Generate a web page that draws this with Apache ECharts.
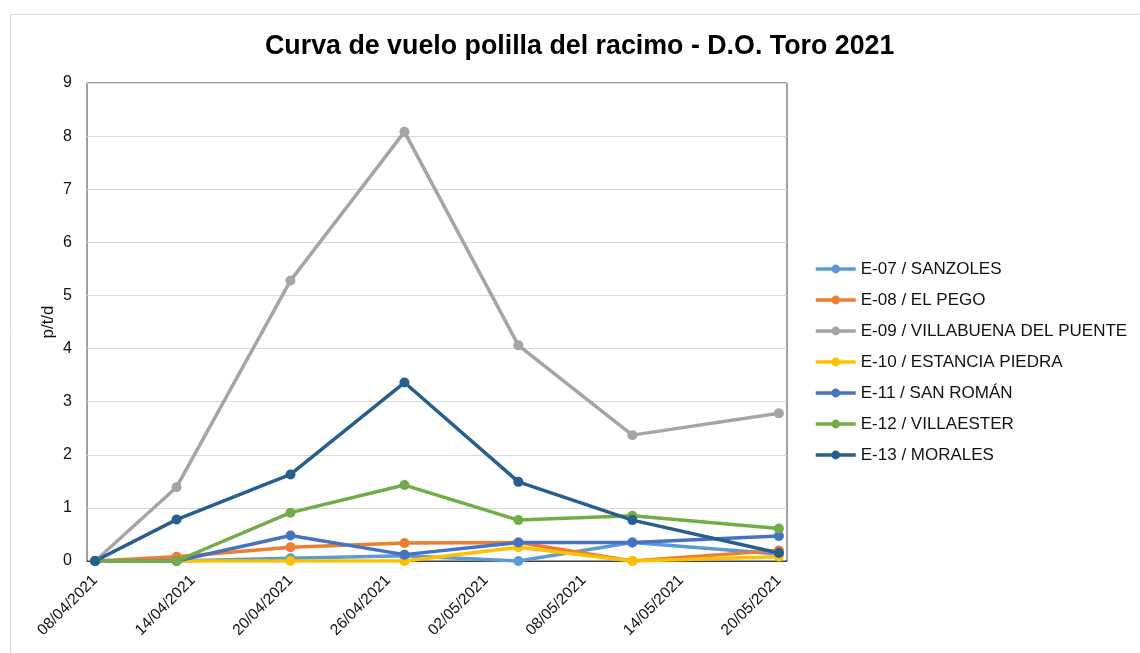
<!DOCTYPE html>
<html>
<head>
<meta charset="utf-8">
<script src="https://cdn.jsdelivr.net/npm/echarts@6/dist/echarts.min.js"></script>
<style>
  html, body { margin: 0; padding: 0; background: #fff; }
  #chart { width: 1140px; height: 653px; }
</style>
</head>
<body>
<div id="chart"></div>
<script>
// fechas de muestreo
const dates = ['2021-04-08', '2021-04-13', '2021-04-20', '2021-04-27', '2021-05-04', '2021-05-11', '2021-05-20'];
// etiquetas del eje x
const tickDates = ['2021-04-08', '2021-04-14', '2021-04-20', '2021-04-26', '2021-05-02', '2021-05-08', '2021-05-14', '2021-05-20'];
const yTicks = [0, 1, 2, 3, 4, 5, 6, 7, 8, 9];

const seriesNames = [
    'E-07 / SANZOLES',
    'E-08 / EL PEGO',
    'E-09 / VILLABUENA DEL PUENTE',
    'E-10 / ESTANCIA PIEDRA',
    'E-11 / SAN ROMÁN',
    'E-12 / VILLAESTER',
    'E-13 / MORALES'
];
const e07 = [0, 0, 0.05, 0.1, 0, 0.35, 0.13];
const e08 = [0, 0.08, 0.26, 0.34, 0.35, 0, 0.2];
const e09 = [0, 1.39, 5.28, 8.08, 4.06, 2.37, 2.78];
const e10 = [0, 0, 0, 0, 0.26, 0, 0.08];
const e11 = [0, 0, 0.48, 0.12, 0.35, 0.35, 0.47];
const e12 = [0, 0, 0.91, 1.43, 0.77, 0.85, 0.61];
const e13 = [0, 0.78, 1.63, 3.36, 1.49, 0.77, 0.15];
const colors = ['#5B9BD5', '#ED7D31', '#A5A5A5', '#FFC000', '#4472C4', '#70AD47', '#255E91'];

const DAY = 86400000;
const t0 = Date.parse(dates[0]);
const toDay = d => Math.round((Date.parse(d) - t0) / DAY);
const fmt = d => d.slice(8, 10) + '/' + d.slice(5, 7) + '/' + d.slice(0, 4);

const font = '"Liberation Sans", Arial, sans-serif';
const allValues = [e07, e08, e09, e10, e11, e12, e13];

const series = allValues.map((vals, i) => ({
    name: seriesNames[i],
    type: 'line',
    data: vals.map((v, k) => [toDay(dates[k]), v]),
    symbol: 'circle',
    symbolSize: 10,
    lineStyle: { width: 3.5, color: colors[i] },
    itemStyle: { color: colors[i] },
    emphasis: { disabled: true },
    animation: false
}));

const chart = echarts.init(document.getElementById('chart'), null, { renderer: 'canvas' });
chart.setOption({
    animation: false,
    backgroundColor: '#fff',
    color: colors,
    graphic: [{
        type: 'rect',
        shape: { x: 10.5, y: 14.5, width: 1140, height: 700 },
        style: { fill: 'none', stroke: '#D9D9D9', lineWidth: 1 },
        silent: true
    }, {
        // titulo del eje y
        type: 'text',
        x: 48,
        y: 322,
        rotation: Math.PI / 2,
        style: {
            text: 'p/t/d',
            font: '17px "Liberation Sans", Arial, sans-serif',
            fill: '#111',
            align: 'center',
            verticalAlign: 'middle'
        },
        silent: true
    }],
    title: {
        text: 'Curva de vuelo polilla del racimo - D.O. Toro 2021',
        left: 260,
        top: 28,
        textStyle: { fontFamily: font, fontSize: 26.8, fontWeight: 'bold', color: '#000' }
    },
    legend: {
        orient: 'vertical',
        left: 809,
        top: 254,
        itemWidth: 40,
        itemHeight: 11,
        itemGap: 11,
        data: seriesNames,
        lineStyle: { width: 3.5 },
        textStyle: { fontFamily: font, fontSize: 17, color: '#111', lineHeight: 20 }
    },
    grid: {
        left: 87,
        top: 83,
        right: 353,
        bottom: 92,
        show: true,
        borderColor: '#404040',
        borderWidth: 1,
        containLabel: false
    },
    xAxis: {
        type: 'value',
        min: -0.5,
        max: toDay(tickDates[tickDates.length - 1]) + 0.5,
        splitLine: { show: false },
        axisTick: { show: false },
        axisLine: { show: true, lineStyle: { color: '#404040', width: 1 } },
        axisLabel: {
            customValues: tickDates.map(toDay),
            rotate: 45,
            margin: 17,
            fontFamily: font,
            fontSize: 15.5,
            color: '#111',
            formatter: v => {
                const d = tickDates.find(t => toDay(t) === Math.round(v));
                return d ? fmt(d) : '';
            }
        }
    },
    yAxis: {
        type: 'value',
        min: yTicks[0],
        max: yTicks[yTicks.length - 1],
        interval: 1,
        axisLine: { show: false },
        axisTick: { show: false },
        splitLine: { lineStyle: { color: '#D9D9D9', width: 1 } },
        axisLabel: { fontFamily: font, fontSize: 16, color: '#111', margin: 15 }
    },
    series: series
});
</script>
</body>
</html>
